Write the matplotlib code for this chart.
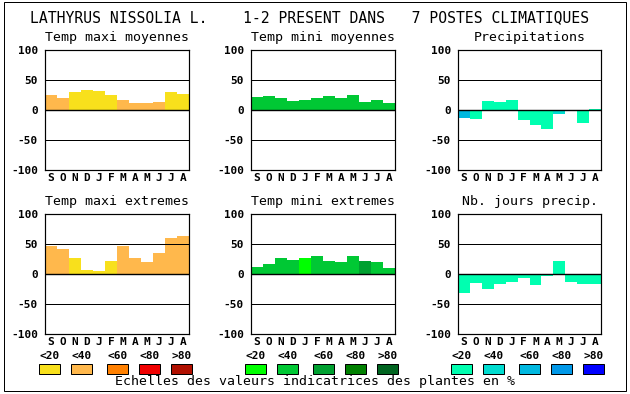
import numpy as np
import matplotlib.pyplot as plt
from matplotlib.patches import Rectangle

# ============================================================
TITLE = "LATHYRUS NISSOLIA L.    1-2 PRESENT DANS   7 POSTES CLIMATIQUES"
MONTHS = ["S", "O", "N", "D", "J", "F", "M", "A", "M", "J", "J", "A"]

PANEL_TITLES = ["Temp maxi moyennes", "Temp mini moyennes", "Precipitations",
                "Temp maxi extremes", "Temp mini extremes", "Nb. jours precip."]

# valeurs
TMAX_MOY = [25, 20, 30, 33, 32, 25, 17, 12, 12, 13, 30, 27]
TMIN_MOY = [22, 23, 20, 15, 17, 20, 23, 20, 25, 13, 17, 12]
PRECIP = [-13, -15, 15, 13, 17, -17, -25, -32, -7, 0, -22, 2]
TMAX_EXT = [47, 42, 26, 7, 5.5, 22, 47, 26, 20.5, 35.5, 60.5, 64]
TMIN_EXT = [12, 17, 27, 24, 27, 30.5, 22, 20.5, 30.5, 22, 20.5, 10.5]
NB_JOURS = [-31, -14.5, -24.5, -16, -13, -6, -18, -3, 22, -13, -16, -16]

# classes (0:<20, 1:<40, 2:<60, 3:<80, 4:>80)
CL_TMAX_MOY = [1, 1, 0, 0, 0, 0, 1, 1, 1, 1, 0, 0]
CL_TMIN_MOY = [1] * 12
CL_PRECIP = [2, 0, 0, 0, 0, 0, 0, 0, 1, 0, 0, 0]
CL_TMAX_EXT = [1, 1, 0, 0, 0, 0, 1, 1, 1, 1, 1, 1]
CL_TMIN_EXT = [1, 1, 1, 1, 0, 1, 1, 1, 1, 2, 1, 1]
CL_NB_JOURS = [0] * 12

CLASS_LABELS = ["<20", "<40", "<60", "<80", ">80"]
REDS = ["#f8e01c", "#ffb84c", "#ff8000", "#f00000", "#b01000"]
GREENS = ["#00ff00", "#00c834", "#00a030", "#008000", "#006420"]
BLUES = ["#00ffb0", "#00dcd0", "#00b8e0", "#0098e8", "#0000ff"]

PANELS = [
    (TMAX_MOY, CL_TMAX_MOY, REDS),
    (TMIN_MOY, CL_TMIN_MOY, GREENS),
    (PRECIP, CL_PRECIP, BLUES),
    (TMAX_EXT, CL_TMAX_EXT, REDS),
    (TMIN_EXT, CL_TMIN_EXT, GREENS),
    (NB_JOURS, CL_NB_JOURS, BLUES),
]

# ============================================================
W, H = 630, 394
FONT = "DejaVu Sans Mono"
PX = 0.72  # 1 pixel en points


def rect(x0, y0, x1, y1):
    """coordonnees pixel (origine en haut a gauche) -> coordonnees figure"""
    return [x0 / W, 1 - y1 / H, (x1 - x0) / W, (y1 - y0) / H]


def fx(x):
    return x / W


def fy(y):
    return 1 - y / H


fig = plt.figure(figsize=(W / 100, H / 100), dpi=100)
fig.patch.set_facecolor("white")

# cadre general
fig.patches.append(Rectangle((fx(4), fy(391)), fx(626) - fx(4), fy(2) - fy(391),
                             transform=fig.transFigure, fill=False,
                             edgecolor="black", linewidth=PX))

fig.text(fx(30), fy(18), TITLE, family=FONT, fontsize=10.6, ha="left", va="center")

cols = [(45, 189), (251, 395), (458, 601)]
rows = [(50, 170), (214, 334)]

for k, (vals, cls, pal) in enumerate(PANELS):
    r, c = divmod(k, 3)
    x0, x1 = cols[c]
    y0, y1 = rows[r]
    ax = fig.add_axes(rect(x0, y0, x1, y1))
    x = np.arange(12)
    ax.bar(x, vals, width=1.0, align="edge", color=[pal[i] for i in cls],
           edgecolor="none", zorder=2)
    for yv in (50, 0, -50):
        ax.axhline(yv, color="black", lw=PX * (1.4 if yv == 0 else 1), zorder=3)
    ax.set_xlim(0, 12)
    ax.set_ylim(-100, 100)
    ax.set_yticks([-100, -50, 0, 50, 100])
    ax.set_yticklabels(["-100", "-50", "0", "50", "100"], family=FONT,
                       fontweight="bold", fontsize=8)
    ax.set_xticks(x + 0.5)
    ax.set_xticklabels(MONTHS, family=FONT, fontweight="bold", fontsize=8)
    ax.tick_params(length=0, pad=2)
    ax.tick_params(axis="y", pad=5)
    for s in ax.spines.values():
        s.set_linewidth(PX * 1.2)
    fig.text(fx((x0 + x1) / 2), fy(y0 - 12), PANEL_TITLES[k], family=FONT,
             fontsize=9.5, ha="center", va="center")

# legendes des classes
for g, pal in enumerate([REDS, GREENS, BLUES]):
    base = 39 + g * 206
    for i, off in enumerate([0, 32, 68, 100, 132]):
        sx = base + off
        fig.patches.append(Rectangle((fx(sx), fy(374)), fx(21), fy(0) - fy(10),
                                     transform=fig.transFigure, facecolor=pal[i],
                                     edgecolor="black", linewidth=PX))
        fig.text(fx(sx + 10.5), fy(356), CLASS_LABELS[i], family=FONT,
                 fontweight="bold", fontsize=8, ha="center", va="center")

fig.text(fx(315), fy(382), "Echelles des valeurs indicatrices des plantes en %",
         family=FONT, fontsize=9.5, ha="center", va="center")

fig.savefig("out.png", dpi=100)
